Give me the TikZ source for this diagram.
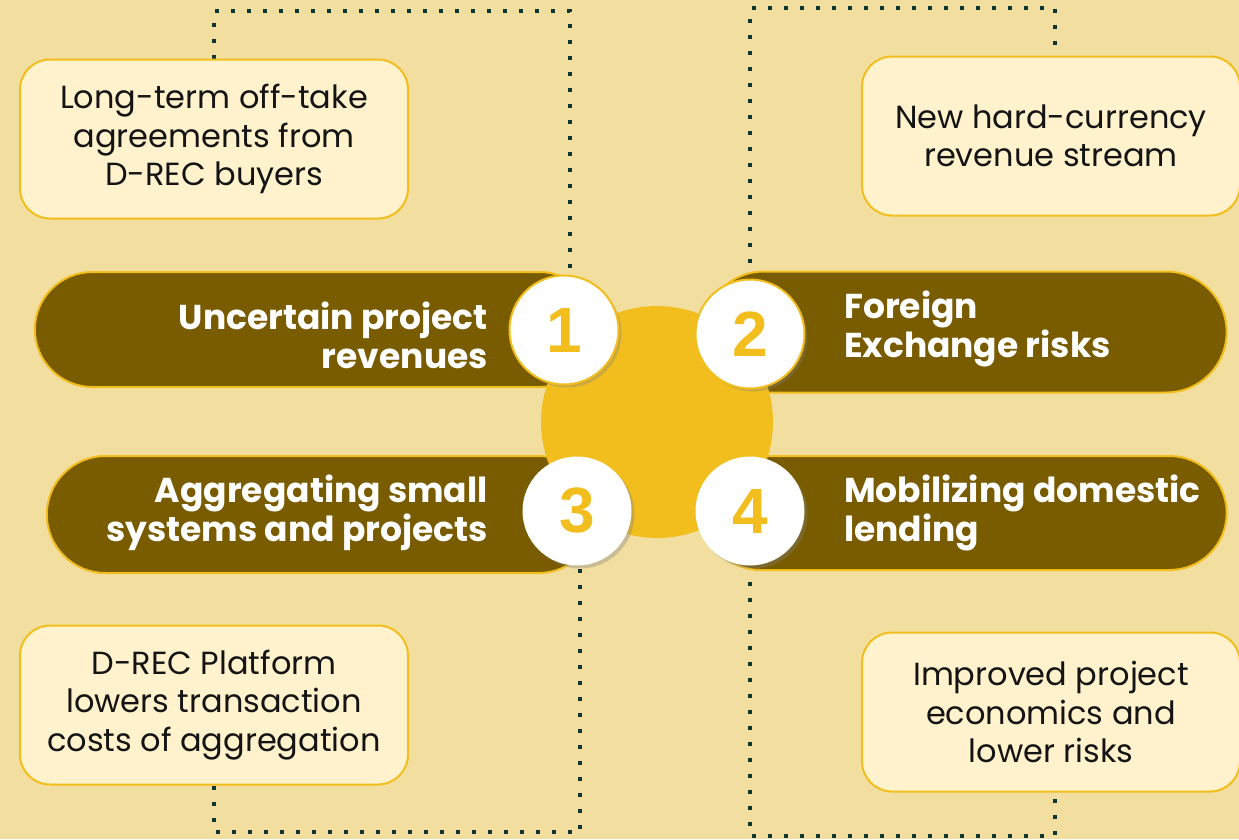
\documentclass[tikz,border=0pt]{standalone}
\usepackage{fontspec}
\setmainfont{Poppins}
\newfontfamily\numfont{Liberation Sans}
\usetikzlibrary{positioning,shadows,shapes.misc}

\definecolor{bgtan}{HTML}{F2DFA0}
\definecolor{cream}{HTML}{FFF2CC}
\definecolor{gold}{HTML}{F2BE1E}
\definecolor{olive}{HTML}{7A5C00}
\definecolor{dotteal}{HTML}{0F3535}

\pgfdeclarelayer{back}
\pgfsetlayers{back,main}

\tikzset{
  infobox/.style={draw=gold, line width=2pt, fill=cream, rounded corners=30pt,
    minimum height=159pt, align=center, text=black!92,
    font=\fontsize{32}{38.5}\selectfont},
  pill/.style={rounded rectangle, draw=gold, line width=2pt, fill=olive},
  pilltext/.style={text=white, inner sep=0pt, font=\bfseries\fontsize{34.5}{39}\selectfont},
  numcircle/.style={circle, fill=white, minimum size=109pt, inner sep=0pt, text=gold,
    font=\numfont\bfseries\fontsize{64}{64}\selectfont,
    drop shadow={shadow xshift=3pt, shadow yshift=-3pt, opacity=.35}},
  dotline/.style={draw=dotteal, line width=4pt, dash pattern=on 4pt off 12pt},
}

\begin{document}
\begin{tikzpicture}[x=1pt,y=-1pt]
	\begin{pgfonlayer}{back}
		\fill[bgtan] (0,0) rectangle (1239,839);
	\end{pgfonlayer}
	\useasboundingbox (0,0) rectangle (1239,839);

	% outcome boxes
	\node[infobox, minimum width=388pt] (tlbox) at (214,139) {Long-term off-take\\agreements from\\D-REC buyers};
	\node[infobox, minimum width=378pt] (trbox) at (1051,136) {New hard-currency\\revenue stream};
	\node[infobox, minimum width=388pt] (blbox) at (214,705) {D-REC Platform\\lowers transaction\\costs of aggregation};
	\node[infobox, minimum width=378pt] (brbox) at (1051,712) {Improved project\\economics and\\lower risks};

	% barriers
	\node[pill, minimum width=569pt, minimum height=115pt] (p1) at (316,329.5) {};
	\node[pill, minimum width=530pt, minimum height=121pt] (p2) at (965,332) {};
	\node[pill, minimum width=557pt, minimum height=117pt] (p3) at (322,514.5) {};
	\node[pill, minimum width=530pt, minimum height=114pt] (p4) at (965,513) {};

	\node[pilltext, align=right, anchor=east] (t1) at (488,335) {Uncertain project\\revenues};
	\node[pilltext, align=left, anchor=west] (t2) at (844,329) {Foreign\\Exchange risks};
	\node[pilltext, align=right, anchor=east] (t3) at (488,513) {Aggregating small\\systems and projects};
	\node[pilltext, align=left, anchor=west] (t4) at (844,513) {Mobilizing domestic\\lending};

	\node[circle, fill=gold, minimum size=232pt] (hub) at (657,422) {};

	\node[numcircle, draw=gold, line width=2pt] (c1) at (564,330) {1};
	\node[numcircle, draw=gold, line width=2pt] (c2) at (750,334) {2};
	\node[numcircle] (c3) at (577,511) {3};
	\node[numcircle] (c4) at (750,511) {4};

	% dotted links
	\coordinate (tlR) at (570,11);
	\coordinate (trR) at (1055,8);
	\coordinate (blR) at (580,832);
	\coordinate (brR) at (1055,836);
	\begin{pgfonlayer}{back}
		\draw[dotline] (tlbox.north) |- (tlR) -- (tlR |- c1.north);
		\draw[dotline] (c2.north) |- (trR) -- (trR |- trbox.north);
		\draw[dotline] (blbox.south) |- (blR) -- (blR |- c3.south);
		\draw[dotline] (c4.south) |- (brR) -- (brR |- brbox.south);
	\end{pgfonlayer}
\end{tikzpicture}
\end{document}
